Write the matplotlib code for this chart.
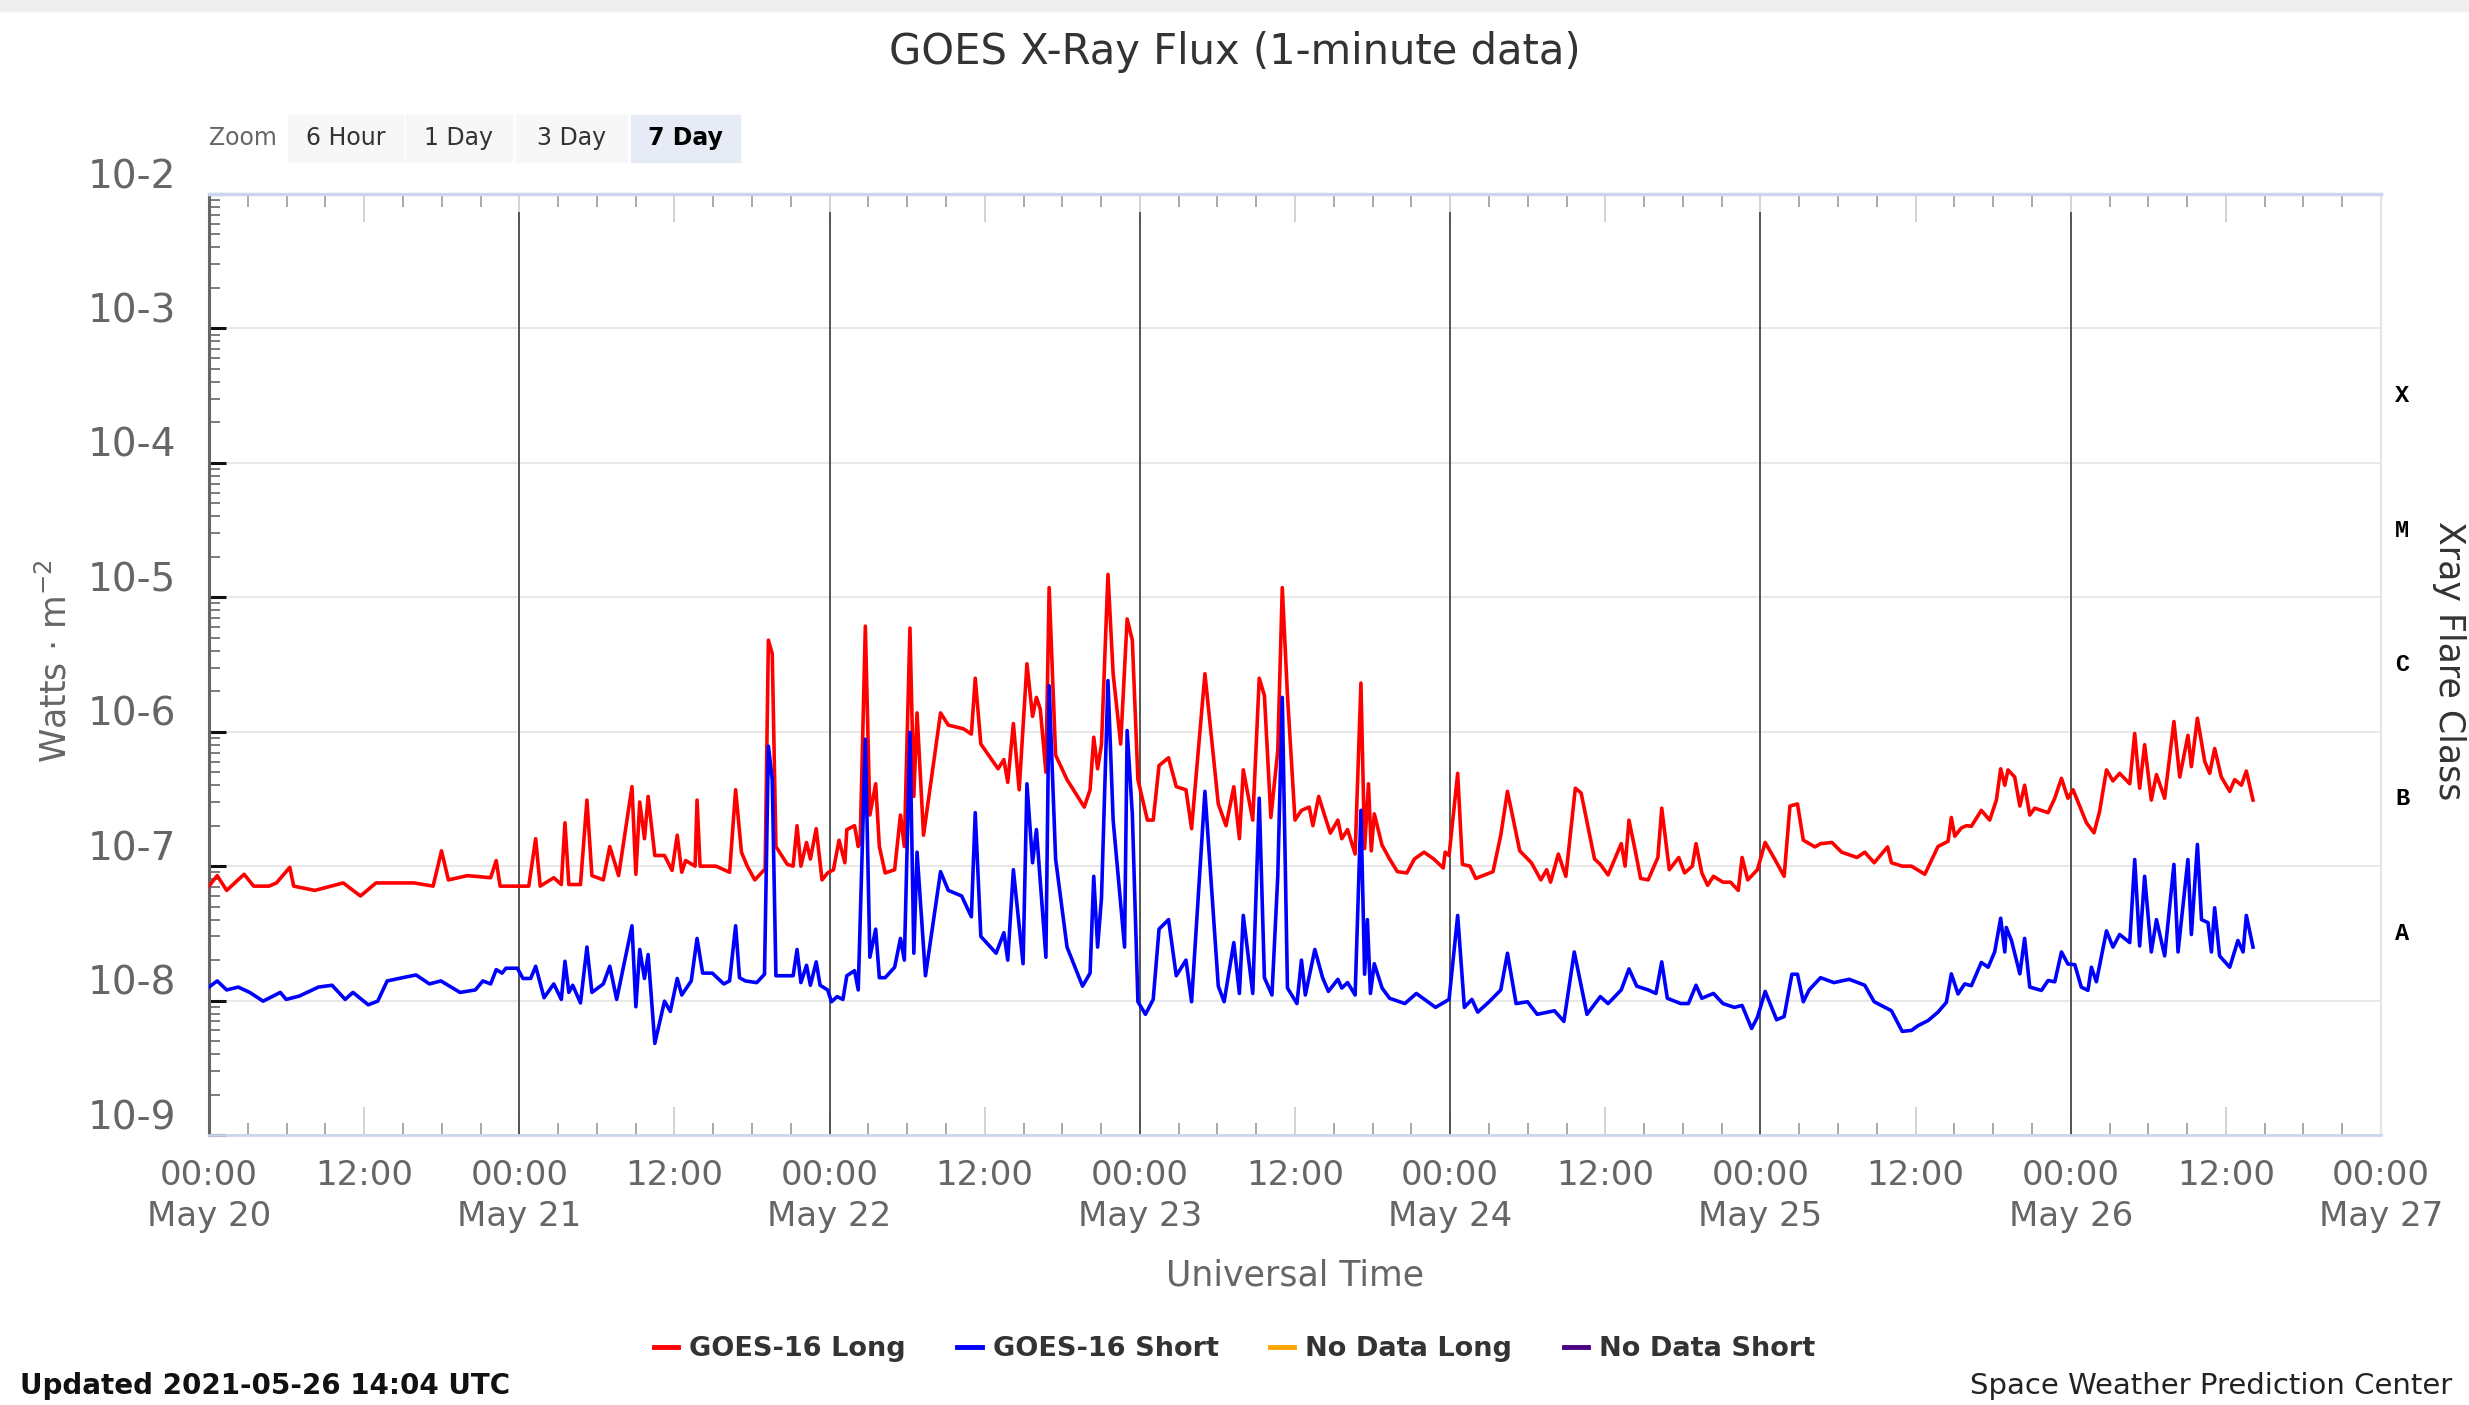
import numpy as np
import matplotlib
matplotlib.use('Agg')
import matplotlib.pyplot as plt
import matplotlib.dates as mdates
from matplotlib.lines import Line2D
from matplotlib.patches import Rectangle
from matplotlib.ticker import FixedLocator, LogLocator, NullFormatter, FuncFormatter
from matplotlib.transforms import ScaledTranslation


# start of the 7 day window
start_time = np.datetime64('2021-05-20T00:00')
end_time = np.datetime64('2021-05-27T00:00')

# GOES-16 long channel (hours since start, W/m^2)
long_hours = [0.0, 0.64, 1.37, 2.71, 3.45, 4.63, 5.22, 6.25, 6.55, 8.18, 10.39, 11.72, 12.91, 14.09, 15.86,
              17.34, 17.99, 18.52, 20.0, 21.78, 22.22, 22.52, 23.85, 24.73, 25.27, 25.62, 26.66, 27.25, 27.54,
              27.84, 28.73, 29.23, 29.61, 30.5, 31.0, 31.68, 32.72, 33.01, 33.31, 33.69, 33.96, 34.49, 35.23,
              35.82, 36.21, 36.56, 36.86, 37.6, 37.75, 37.98, 39.22, 40.26, 40.74, 41.19, 41.63, 42.22, 42.81,
              43.02, 43.26, 43.56, 43.85, 44.74, 45.19, 45.48, 45.78, 46.22, 46.52, 46.96, 47.41, 47.85, 48.3,
              48.74, 49.19, 49.33, 49.93, 50.22, 50.37, 50.76, 51.11, 51.56, 51.85, 52.3, 53.04, 53.48, 53.78,
              54.22, 54.52, 54.76, 55.26, 56.59, 57.19, 58.37, 58.96, 59.26, 59.7, 61.04, 61.48, 61.78, 62.22,
              62.67, 63.26, 63.7, 64.0, 64.3, 64.74, 64.98, 65.48, 66.37, 67.7, 68.15, 68.44, 68.74, 69.04,
              69.54, 69.93, 70.52, 71.02, 71.41, 71.85, 72.59, 73.04, 73.48, 74.22, 74.81, 75.56, 76.0, 77.04,
              78.07, 78.67, 79.26, 79.7, 80.0, 80.74, 81.24, 81.63, 82.13, 82.67, 83.02, 83.41, 84.0, 84.5,
              85.1, 85.39, 85.84, 86.28, 86.73, 87.32, 87.61, 88.06, 88.65, 89.1, 89.39, 89.69, 89.9, 90.13,
              90.73, 91.32, 91.91, 92.65, 93.24, 93.99, 94.73, 95.47, 95.61, 95.91, 96.59, 96.95, 97.54, 97.99,
              99.32, 99.91, 100.44, 101.39, 102.28, 103.02, 103.47, 103.76, 104.36, 104.95, 105.69, 106.13,
              107.17, 107.62, 108.21, 109.24, 109.54, 109.84, 110.28, 110.73, 111.32, 112.06, 112.36, 112.95,
              113.69, 114.13, 114.73, 115.02, 115.47, 115.91, 116.36, 117.1, 117.69, 118.28, 118.58, 119.02,
              119.76, 120.36, 121.1, 121.84, 122.28, 122.87, 123.32, 124.21, 124.65, 125.54, 126.28, 127.47,
              128.06, 128.8, 129.84, 130.13, 130.96, 131.68, 132.71, 133.74, 134.51, 134.77, 135.03, 135.54,
              135.93, 136.32, 137.09, 137.74, 138.25, 138.59, 138.9, 139.15, 139.67, 140.06, 140.44, 140.83,
              141.22, 141.73, 142.25, 142.76, 143.28, 143.79, 144.18, 144.57, 145.21, 145.8, 146.24, 146.76,
              147.27, 147.79, 148.56, 148.95, 149.34, 149.72, 150.24, 150.63, 151.27, 151.99, 152.43, 153.07,
              153.33, 153.8, 154.36, 154.75, 155.14, 155.65, 156.3, 156.68, 157.2, 157.59, 157.84, 158.1]
long_flux = [7.1e-8, 8.5e-8, 6.6e-8, 8.7e-8, 7.1e-8, 7.1e-8, 7.5e-8, 9.8e-8, 7.1e-8, 6.6e-8, 7.5e-8, 6.0e-8,
             7.5e-8, 7.5e-8, 7.5e-8, 7.1e-8, 1.3e-7, 7.9e-8, 8.5e-8, 8.2e-8, 1.1e-7, 7.1e-8, 7.1e-8, 7.1e-8,
             1.6e-7, 7.1e-8, 8.2e-8, 7.3e-8, 2.1e-7, 7.3e-8, 7.3e-8, 3.1e-7, 8.5e-8, 7.9e-8, 1.4e-7, 8.5e-8,
             3.9e-7, 8.7e-8, 3.0e-7, 1.6e-7, 3.3e-7, 1.2e-7, 1.2e-7, 9.3e-8, 1.7e-7, 9.0e-8, 1.1e-7, 1.0e-7,
             3.1e-7, 1.0e-7, 1.0e-7, 9.0e-8, 3.7e-7, 1.27e-7, 1.0e-7, 7.9e-8, 9.1e-8, 9.5e-8, 4.8e-6, 3.8e-6,
             1.4e-7, 1.03e-7, 1.0e-7, 2.0e-7, 1.0e-7, 1.5e-7, 1.13e-7, 1.9e-7, 7.9e-8, 8.9e-8, 9.4e-8, 1.56e-7,
             1.06e-7, 1.87e-7, 2.0e-7, 1.4e-7, 1.5e-7, 6.1e-6, 2.4e-7, 4.1e-7, 1.4e-7, 8.9e-8, 9.4e-8, 2.4e-7,
             1.4e-7, 5.9e-6, 3.3e-7, 1.38e-6, 1.7e-7, 1.38e-6, 1.12e-6, 1.05e-6, 9.6e-7, 2.5e-6, 8.1e-7, 5.3e-7,
             6.2e-7, 4.2e-7, 1.15e-6, 3.7e-7, 3.2e-6, 1.3e-6, 1.8e-6, 1.47e-6, 5.0e-7, 1.18e-5, 6.7e-7, 4.4e-7,
             2.75e-7, 3.7e-7, 9.1e-7, 5.3e-7, 8.1e-7, 1.48e-5, 2.7e-6, 8.1e-7, 6.9e-6, 4.8e-6, 4.4e-7, 2.2e-7,
             2.2e-7, 5.6e-7, 6.4e-7, 3.9e-7, 3.7e-7, 1.9e-7, 2.7e-6, 2.9e-7, 2.0e-7, 3.9e-7, 1.6e-7, 5.2e-7,
             2.2e-7, 2.5e-6, 1.86e-6, 2.3e-7, 7.2e-7, 1.18e-5, 1.86e-6, 2.2e-7, 2.6e-7, 2.75e-7, 2.0e-7, 3.3e-7,
             2.4e-7, 1.76e-7, 2.2e-7, 1.6e-7, 1.87e-7, 1.23e-7, 2.3e-6, 1.35e-7, 4.1e-7, 1.3e-7, 2.45e-7,
             1.43e-7, 1.13e-7, 9.1e-8, 8.9e-8, 1.13e-7, 1.27e-7, 1.13e-7, 9.7e-8, 1.27e-7, 1.2e-7, 4.9e-7,
             1.03e-7, 1.0e-7, 8.1e-8, 9.1e-8, 1.7e-7, 3.6e-7, 1.3e-7, 1.06e-7, 7.9e-8, 9.4e-8, 7.6e-8, 1.23e-7,
             8.4e-8, 3.8e-7, 3.5e-7, 1.13e-7, 1.03e-7, 8.6e-8, 1.47e-7, 1.0e-7, 2.2e-7, 1.35e-7, 8.1e-8, 7.9e-8,
             1.16e-7, 2.7e-7, 9.4e-8, 1.16e-7, 8.9e-8, 1.0e-7, 1.47e-7, 8.9e-8, 7.2e-8, 8.4e-8, 7.6e-8, 7.6e-8,
             6.6e-8, 1.16e-7, 7.9e-8, 9.4e-8, 1.5e-7, 1.13e-7, 8.4e-8, 2.8e-7, 2.9e-7, 1.56e-7, 1.39e-7,
             1.47e-7, 1.5e-7, 1.27e-7, 1.16e-7, 1.27e-7, 1.06e-7, 1.39e-7, 1.06e-7, 1.0e-7, 1.0e-7, 8.7e-8,
             1.4e-7, 1.53e-7, 2.3e-7, 1.67e-7, 1.92e-7, 2.0e-7, 1.98e-7, 2.6e-7, 2.2e-7, 3.1e-7, 5.3e-7, 4.0e-7,
             5.2e-7, 4.6e-7, 2.8e-7, 4.0e-7, 2.4e-7, 2.7e-7, 2.6e-7, 2.5e-7, 3.2e-7, 4.5e-7, 3.2e-7, 3.7e-7,
             3.0e-7, 2.1e-7, 1.77e-7, 2.55e-7, 5.2e-7, 4.3e-7, 4.9e-7, 4.1e-7, 9.7e-7, 3.8e-7, 8.0e-7, 3.1e-7,
             4.8e-7, 3.2e-7, 1.19e-6, 4.6e-7, 9.4e-7, 5.5e-7, 1.26e-6, 6.0e-7, 4.9e-7, 7.5e-7, 4.6e-7, 3.6e-7,
             4.4e-7, 4.0e-7, 5.1e-7, 4.0e-7, 3.1e-7]

# GOES-16 short channel (hours since start, W/m^2)
short_hours = [0.0, 0.64, 1.37, 2.26, 3.15, 4.18, 5.51, 5.96, 6.99, 8.47, 9.51, 10.54, 11.13, 12.32, 13.05,
               13.79, 15.27, 16.01, 17.05, 17.93, 19.41, 20.6, 21.19, 21.78, 22.22, 22.66, 22.96, 23.85, 24.29,
               24.88, 25.27, 25.92, 26.66, 27.25, 27.54, 27.84, 28.14, 28.73, 29.23, 29.61, 30.5, 31.0, 31.54,
               32.72, 33.01, 33.31, 33.69, 33.96, 34.49, 35.23, 35.68, 36.21, 36.56, 37.3, 37.75, 38.19, 38.93,
               39.82, 40.26, 40.74, 41.04, 41.48, 42.37, 42.96, 43.26, 43.56, 43.85, 45.19, 45.48, 45.78, 46.22,
               46.52, 46.96, 47.26, 47.85, 48.15, 48.59, 49.04, 49.33, 49.93, 50.22, 50.76, 51.11, 51.56, 51.85,
               52.3, 53.04, 53.48, 53.78, 54.22, 54.52, 54.76, 55.41, 56.59, 57.19, 58.22, 58.96, 59.26, 59.7,
               60.89, 61.48, 61.78, 62.22, 62.96, 63.26, 63.7, 64.0, 64.74, 64.98, 65.48, 66.37, 67.56, 68.15,
               68.44, 68.74, 69.04, 69.54, 69.93, 70.82, 71.02, 71.41, 71.85, 72.44, 73.04, 73.48, 74.22, 74.81,
               75.56, 76.0, 77.04, 78.07, 78.52, 79.26, 79.7, 80.0, 80.74, 81.24, 81.63, 82.22, 82.67, 83.02,
               83.41, 84.15, 84.5, 84.8, 85.54, 86.13, 86.58, 87.32, 87.61, 88.06, 88.65, 89.1, 89.39, 89.6,
               89.84, 90.13, 90.73, 91.32, 92.5, 93.39, 94.87, 95.91, 96.59, 97.1, 97.69, 98.13, 99.02, 99.91,
               100.44, 101.1, 101.99, 102.73, 104.06, 104.8, 105.6, 106.58, 107.62, 108.21, 109.24, 109.84,
               110.43, 111.32, 111.91, 112.36, 112.8, 113.84, 114.43, 115.02, 115.47, 116.36, 117.1, 117.99,
               118.58, 119.32, 119.76, 120.36, 121.25, 121.84, 122.43, 122.87, 123.32, 123.76, 124.65, 125.69,
               126.87, 128.06, 128.8, 130.13, 130.96, 131.68, 132.19, 132.97, 133.74, 134.38, 134.77, 135.29,
               135.8, 136.32, 137.09, 137.61, 138.12, 138.59, 138.9, 139.02, 139.41, 140.06, 140.44, 140.83,
               141.73, 142.25, 142.76, 143.28, 143.79, 144.31, 144.82, 145.34, 145.6, 145.99, 146.76, 147.27,
               147.79, 148.56, 148.95, 149.34, 149.72, 150.24, 150.63, 151.27, 151.99, 152.3, 153.07, 153.33,
               153.8, 154.11, 154.62, 154.88, 155.14, 155.52, 156.3, 156.94, 157.33, 157.59, 158.1]
short_flux = [1.26e-8, 1.4e-8, 1.2e-8, 1.26e-8, 1.15e-8, 9.9e-9, 1.15e-8, 1.02e-8, 1.08e-8, 1.26e-8, 1.3e-8,
              1.02e-8, 1.15e-8, 9.3e-9, 9.9e-9, 1.4e-8, 1.5e-8, 1.55e-8, 1.33e-8, 1.4e-8, 1.15e-8, 1.2e-8,
              1.4e-8, 1.33e-8, 1.7e-8, 1.6e-8, 1.74e-8, 1.74e-8, 1.46e-8, 1.46e-8, 1.8e-8, 1.05e-8, 1.33e-8,
              1.02e-8, 1.96e-8, 1.15e-8, 1.3e-8, 9.6e-9, 2.5e-8, 1.15e-8, 1.33e-8, 1.8e-8, 1.02e-8, 3.6e-8,
              9.0e-9, 2.4e-8, 1.46e-8, 2.2e-8, 4.8e-9, 9.9e-9, 8.3e-9, 1.46e-8, 1.1e-8, 1.4e-8, 2.9e-8, 1.6e-8,
              1.6e-8, 1.33e-8, 1.4e-8, 3.6e-8, 1.48e-8, 1.4e-8, 1.36e-8, 1.57e-8, 7.8e-7, 4.4e-7, 1.53e-8,
              1.53e-8, 2.4e-8, 1.36e-8, 1.83e-8, 1.3e-8, 1.94e-8, 1.3e-8, 1.2e-8, 9.8e-9, 1.07e-8, 1.02e-8,
              1.53e-8, 1.67e-8, 1.2e-8, 8.8e-7, 2.1e-8, 3.4e-8, 1.48e-8, 1.48e-8, 1.77e-8, 2.9e-8, 2.0e-8,
              9.9e-7, 2.25e-8, 1.27e-7, 1.53e-8, 9.1e-8, 6.6e-8, 6.0e-8, 4.2e-8, 2.5e-7, 3.0e-8, 2.25e-8,
              3.2e-8, 2.0e-8, 9.4e-8, 1.88e-8, 4.1e-7, 1.06e-7, 1.87e-7, 2.1e-8, 2.2e-6, 1.13e-7, 2.5e-8,
              1.28e-8, 1.6e-8, 8.4e-8, 2.5e-8, 5.8e-8, 2.4e-6, 2.2e-7, 2.5e-8, 1.02e-6, 2.45e-7, 9.8e-9, 7.9e-9,
              1.02e-8, 3.4e-8, 4.0e-8, 1.53e-8, 2.0e-8, 9.8e-9, 3.6e-7, 1.28e-8, 9.8e-9, 2.7e-8, 1.13e-8,
              4.3e-8, 1.13e-8, 3.2e-7, 1.48e-8, 1.1e-8, 8.4e-8, 1.8e-6, 1.24e-8, 9.5e-9, 2.0e-8, 1.1e-8, 2.4e-8,
              1.48e-8, 1.17e-8, 1.44e-8, 1.24e-8, 1.36e-8, 1.1e-8, 2.6e-7, 1.57e-8, 4.0e-8, 1.13e-8, 1.88e-8,
              1.24e-8, 1.04e-8, 9.5e-9, 1.13e-8, 8.9e-9, 1.02e-8, 4.3e-8, 8.9e-9, 1.02e-8, 8.2e-9, 9.8e-9,
              1.2e-8, 2.25e-8, 9.5e-9, 9.8e-9, 7.9e-9, 8.4e-9, 7.0e-9, 2.3e-8, 7.9e-9, 1.07e-8, 9.5e-9, 1.2e-8,
              1.72e-8, 1.28e-8, 1.2e-8, 1.13e-8, 1.94e-8, 1.04e-8, 9.5e-9, 9.5e-9, 1.3e-8, 1.04e-8, 1.13e-8,
              9.5e-9, 8.9e-9, 9.2e-9, 6.2e-9, 7.5e-9, 1.17e-8, 7.2e-9, 7.6e-9, 1.57e-8, 1.57e-8, 9.8e-9, 1.2e-8,
              1.48e-8, 1.36e-8, 1.44e-8, 1.3e-8, 9.8e-9, 8.4e-9, 5.9e-9, 6.0e-9, 6.5e-9, 7.1e-9, 8.2e-9, 9.7e-9,
              1.58e-8, 1.12e-8, 1.33e-8, 1.29e-8, 1.92e-8, 1.77e-8, 2.3e-8, 4.1e-8, 2.3e-8, 3.5e-8, 2.8e-8,
              1.58e-8, 2.9e-8, 1.26e-8, 1.19e-8, 1.41e-8, 1.38e-8, 2.3e-8, 1.87e-8, 1.85e-8, 1.26e-8, 1.19e-8,
              1.77e-8, 1.38e-8, 3.3e-8, 2.5e-8, 3.1e-8, 2.7e-8, 1.12e-7, 2.55e-8, 8.4e-8, 2.3e-8, 4.0e-8,
              2.15e-8, 1.03e-7, 2.3e-8, 1.12e-7, 3.1e-8, 1.45e-7, 4.0e-8, 3.8e-8, 2.3e-8, 4.9e-8, 2.15e-8,
              1.77e-8, 2.8e-8, 2.3e-8, 4.3e-8, 2.5e-8]

# y axis decades, printed the way the page prints them
decade_values = [1e-9, 1e-8, 1e-7, 1e-6, 1e-5, 1e-4, 1e-3, 1e-2]
decade_labels = ['10-9', '10-8', '10-7', '10-6', '10-5', '10-4', '10-3', '10-2']

# flare class letters, centred inside their decade
class_labels = ['A', 'B', 'C', 'M', 'X']
class_values = [3.16e-8, 3.16e-7, 3.16e-6, 3.16e-5, 3.16e-4]

zoom_buttons = ['6 Hour', '1 Day', '3 Day', '7 Day']
legend_labels = ['GOES-16 Long', 'GOES-16 Short', 'No Data Long', 'No Data Short']
legend_colors = ['#ff0000', '#0000ff', '#ffa500', '#4b0082']


def to_times(hours):
    return start_time + (np.array(hours) * 60).round().astype('timedelta64[m]')


def fx(px):
    return px / 2469.0


def fy(py):
    return 1 - py / 1405.0


def time_label(x, pos=None):
    d = mdates.num2date(x)
    if d.hour == 0:
        return d.strftime('%H:%M') + '\n' + d.strftime('%b %d').replace(' 0', ' ')
    return d.strftime('%H:%M')


fig = plt.figure(figsize=(24.69, 14.05), dpi=100)
fig.patch.set_facecolor('white')

# grey page strip at the top
fig.add_artist(Rectangle((0, fy(11)), 1, 11 / 1405.0, transform=fig.transFigure, color='#efefef', zorder=0))

ax = fig.add_axes([fx(209), fy(1135), fx(2381 - 209), (1135 - 194) / 1405.0])
ax.set_yscale('log')
ax.set_ylim(1e-9, 1e-2)
ax.set_xlim(start_time, end_time)

ax.plot(to_times(long_hours), long_flux, color=legend_colors[0], lw=2.6, zorder=4)
ax.plot(to_times(short_hours), short_flux, color=legend_colors[1], lw=2.6, zorder=5)

# midnight plot lines
for day in range(1, 7):
    ax.axvline(start_time + np.timedelta64(day, 'D'), ymin=0, ymax=0.98, color='#555555', lw=1.4, zorder=2)

ax.yaxis.set_major_locator(FixedLocator(decade_values))
ax.yaxis.set_minor_locator(LogLocator(base=10, subs=np.arange(2, 10)))
ax.yaxis.set_major_formatter(NullFormatter())
ax.yaxis.set_minor_formatter(NullFormatter())
ax.yaxis.grid(True, which='major', color='#e6e6e6', lw=1.3, zorder=1)
ax.tick_params(axis='y', which='major', direction='in', length=12, width=2.2, color='#111111')
ax.tick_params(axis='y', which='minor', direction='in', length=8, width=1.2, color='#666666')

ax.xaxis.set_major_locator(mdates.HourLocator(byhour=[0, 12]))
ax.xaxis.set_minor_locator(mdates.HourLocator(byhour=range(0, 24, 3)))
ax.xaxis.set_major_formatter(FuncFormatter(time_label))
ax.tick_params(axis='x', which='major', direction='in', top=True, length=20, width=1.2, color='#cccccc',
               labelsize=24.5, labelcolor='#666666', pad=17)
ax.tick_params(axis='x', which='minor', direction='in', top=True, length=9, width=1.2, color='#999999')
for lab in ax.get_xticklabels():
    lab.set_linespacing(1.32)

for side, col, w in [('left', '#666666', 2.2), ('top', '#ccd6eb', 2.5), ('bottom', '#ccd6eb', 2.0),
                     ('right', '#e6e6e6', 1.5)]:
    ax.spines[side].set_color(col)
    ax.spines[side].set_linewidth(w)

# decade labels sit a little above their grid line
lift = ScaledTranslation(0, 0.17, fig.dpi_scale_trans)
for v, lab in zip(decade_values, decade_labels):
    ax.text(-0.015, v, lab, transform=ax.get_yaxis_transform() + lift, ha='right', va='center',
            fontsize=28, color='#666666')

for v, lab in zip(class_values, class_labels):
    ax.text(1.0097, v, lab, transform=ax.get_yaxis_transform(), ha='center', va='center',
            family=['Liberation Mono', 'DejaVu Sans Mono'], weight='bold', fontsize=17, color='#000000')

fig.text(0.5, fy(52), 'GOES X-Ray Flux (1-minute data)', ha='center', va='center', fontsize=30, color='#333333')
fig.text(fx(55), fy(661), 'Watts \u00b7 m$^{-2}$', rotation=90, ha='center', va='center', fontsize=25,
         color='#666666')
fig.text(fx(2449), fy(661), 'Xray Flare Class', rotation=270, ha='center', va='center', fontsize=25,
         color='#333333')
fig.text(fx(1295), fy(1275), 'Universal Time', ha='center', va='center', fontsize=25, color='#666666')

# zoom buttons
fig.text(fx(243), fy(138), 'Zoom', ha='center', va='center', fontsize=17, color='#666666')
button_left = [288, 406, 516, 631]
button_width = [115, 106, 111, 109]
for i, lab in enumerate(zoom_buttons):
    selected = lab == '7 Day'
    fig.add_artist(Rectangle((fx(button_left[i]), fy(162)), fx(button_width[i]), 47 / 1405.0,
                             transform=fig.transFigure, color='#e6ebf5' if selected else '#f7f7f7', zorder=1))
    fig.text(fx(button_left[i] + button_width[i] / 2), fy(138), lab, ha='center', va='center', fontsize=17,
             color='#000000' if selected else '#333333', weight='bold' if selected else 'normal')

handles = [Line2D([], [], color=c, lw=3.5) for c in legend_colors]
fig.legend(handles, legend_labels, loc='center', bbox_to_anchor=(0.5, fy(1349)), ncol=4, frameon=False,
           prop={'weight': 'bold', 'size': 19.5}, labelcolor='#333333', handlelength=0.9, handletextpad=0.4,
           columnspacing=1.9)

fig.text(fx(20), fy(1386), 'Updated 2021-05-26 14:04 UTC', ha='left', va='center', fontsize=20,
         weight='bold', color='#111111')
fig.text(fx(2452), fy(1386), 'Space Weather Prediction Center', ha='right', va='center', fontsize=21,
         color='#222222')

fig.savefig('out.png', dpi=100)
